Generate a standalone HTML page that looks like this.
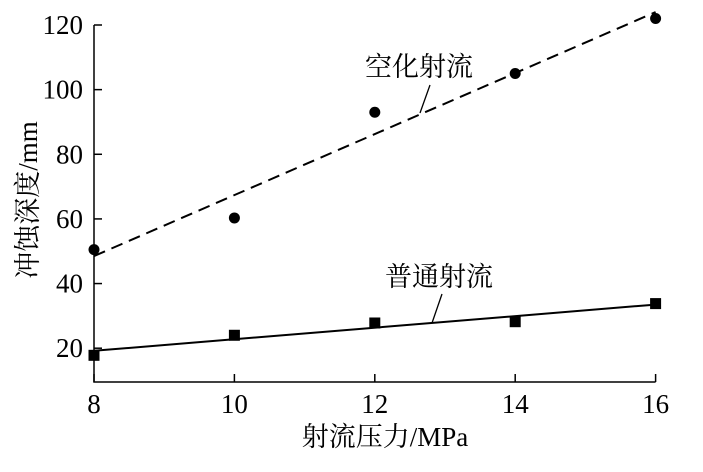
<!DOCTYPE html>
<html><head><meta charset="utf-8"><style>
body{margin:0;background:#fff}
svg text{font-family:"Liberation Serif","Noto Serif CJK SC",serif;fill:#000}
</style></head><body>
<svg width="703" height="467" viewBox="0 0 703 467">
<g id="g"></g>
</svg>
<script>
const xTicks=[8,10,12,14,16];
const yTicks=[20,40,60,80,100,120];
const xs=[8,10,12,14,16];
const cavVals=[50.5,60.3,93,105,122];
const normVals=[17.8,24,27.8,28.2,33.8];
const cavFit=[48.5,124];
const normFit=[19.2,33.5];
const X=v=>94+(v-8)*70.2;
const Y=v=>25+(120-v)*3.232;
const NS="http://www.w3.org/2000/svg";
const g=document.getElementById('g');
function mk(t,a,txt){const e=document.createElementNS(NS,t);for(const k in a)e.setAttribute(k,a[k]);if(txt!=null)e.textContent=txt;g.appendChild(e);return e;}
let e;
e=mk('path',{d:`M${X(8)} ${Y(120)}V382H${X(16)}`,fill:'none',stroke:'#000','stroke-width':1.5});


yTicks.forEach(v=>{
 e=mk('line',{x1:94,x2:102,y1:Y(v),y2:Y(v),stroke:'#000','stroke-width':1.5});
 
 
 e=mk('text',{x:83,y:Y(v)+9,'text-anchor':'end','font-size':27},v);
 
 
});
xTicks.forEach(v=>{
 e=mk('line',{x1:X(v),x2:X(v),y1:382,y2:374,stroke:'#000','stroke-width':1.5});
 
 
 e=mk('text',{x:X(v),y:413,'text-anchor':'middle','font-size':27},v);
 
 
});
e=mk('line',{x1:X(8),y1:Y(cavFit[0]),x2:X(16),y2:Y(cavFit[1]),stroke:'#000','stroke-width':2,'stroke-dasharray':'12,7'});


e=mk('line',{x1:X(8),y1:Y(normFit[0]),x2:X(16),y2:Y(normFit[1]),stroke:'#000','stroke-width':2});


xs.forEach((x,i)=>{
 e=mk('circle',{cx:X(x),cy:Y(cavVals[i]),r:5.5,fill:'#000'});
 
 
 e=mk('rect',{x:X(x)-5.5,y:Y(normVals[i])-5.5,width:11,height:11,fill:'#000'});
 
 
});
e=mk('text',{x:365,y:76,'font-size':27},'空化射流');


e=mk('line',{x1:430,y1:85,x2:420,y2:113,stroke:'#000','stroke-width':1.3});


e=mk('text',{x:385,y:286,'font-size':27},'普通射流');


e=mk('line',{x1:442,y1:294,x2:432,y2:323,stroke:'#000','stroke-width':1.3});


e=mk('text',{x:385,y:446,'text-anchor':'middle','font-size':27},'射流压力/MPa');


e=mk('text',{x:0,y:0,'text-anchor':'middle','font-size':27,transform:'translate(37,200) rotate(-90)'},'冲蚀深度/mm');


</script>
</body></html>
